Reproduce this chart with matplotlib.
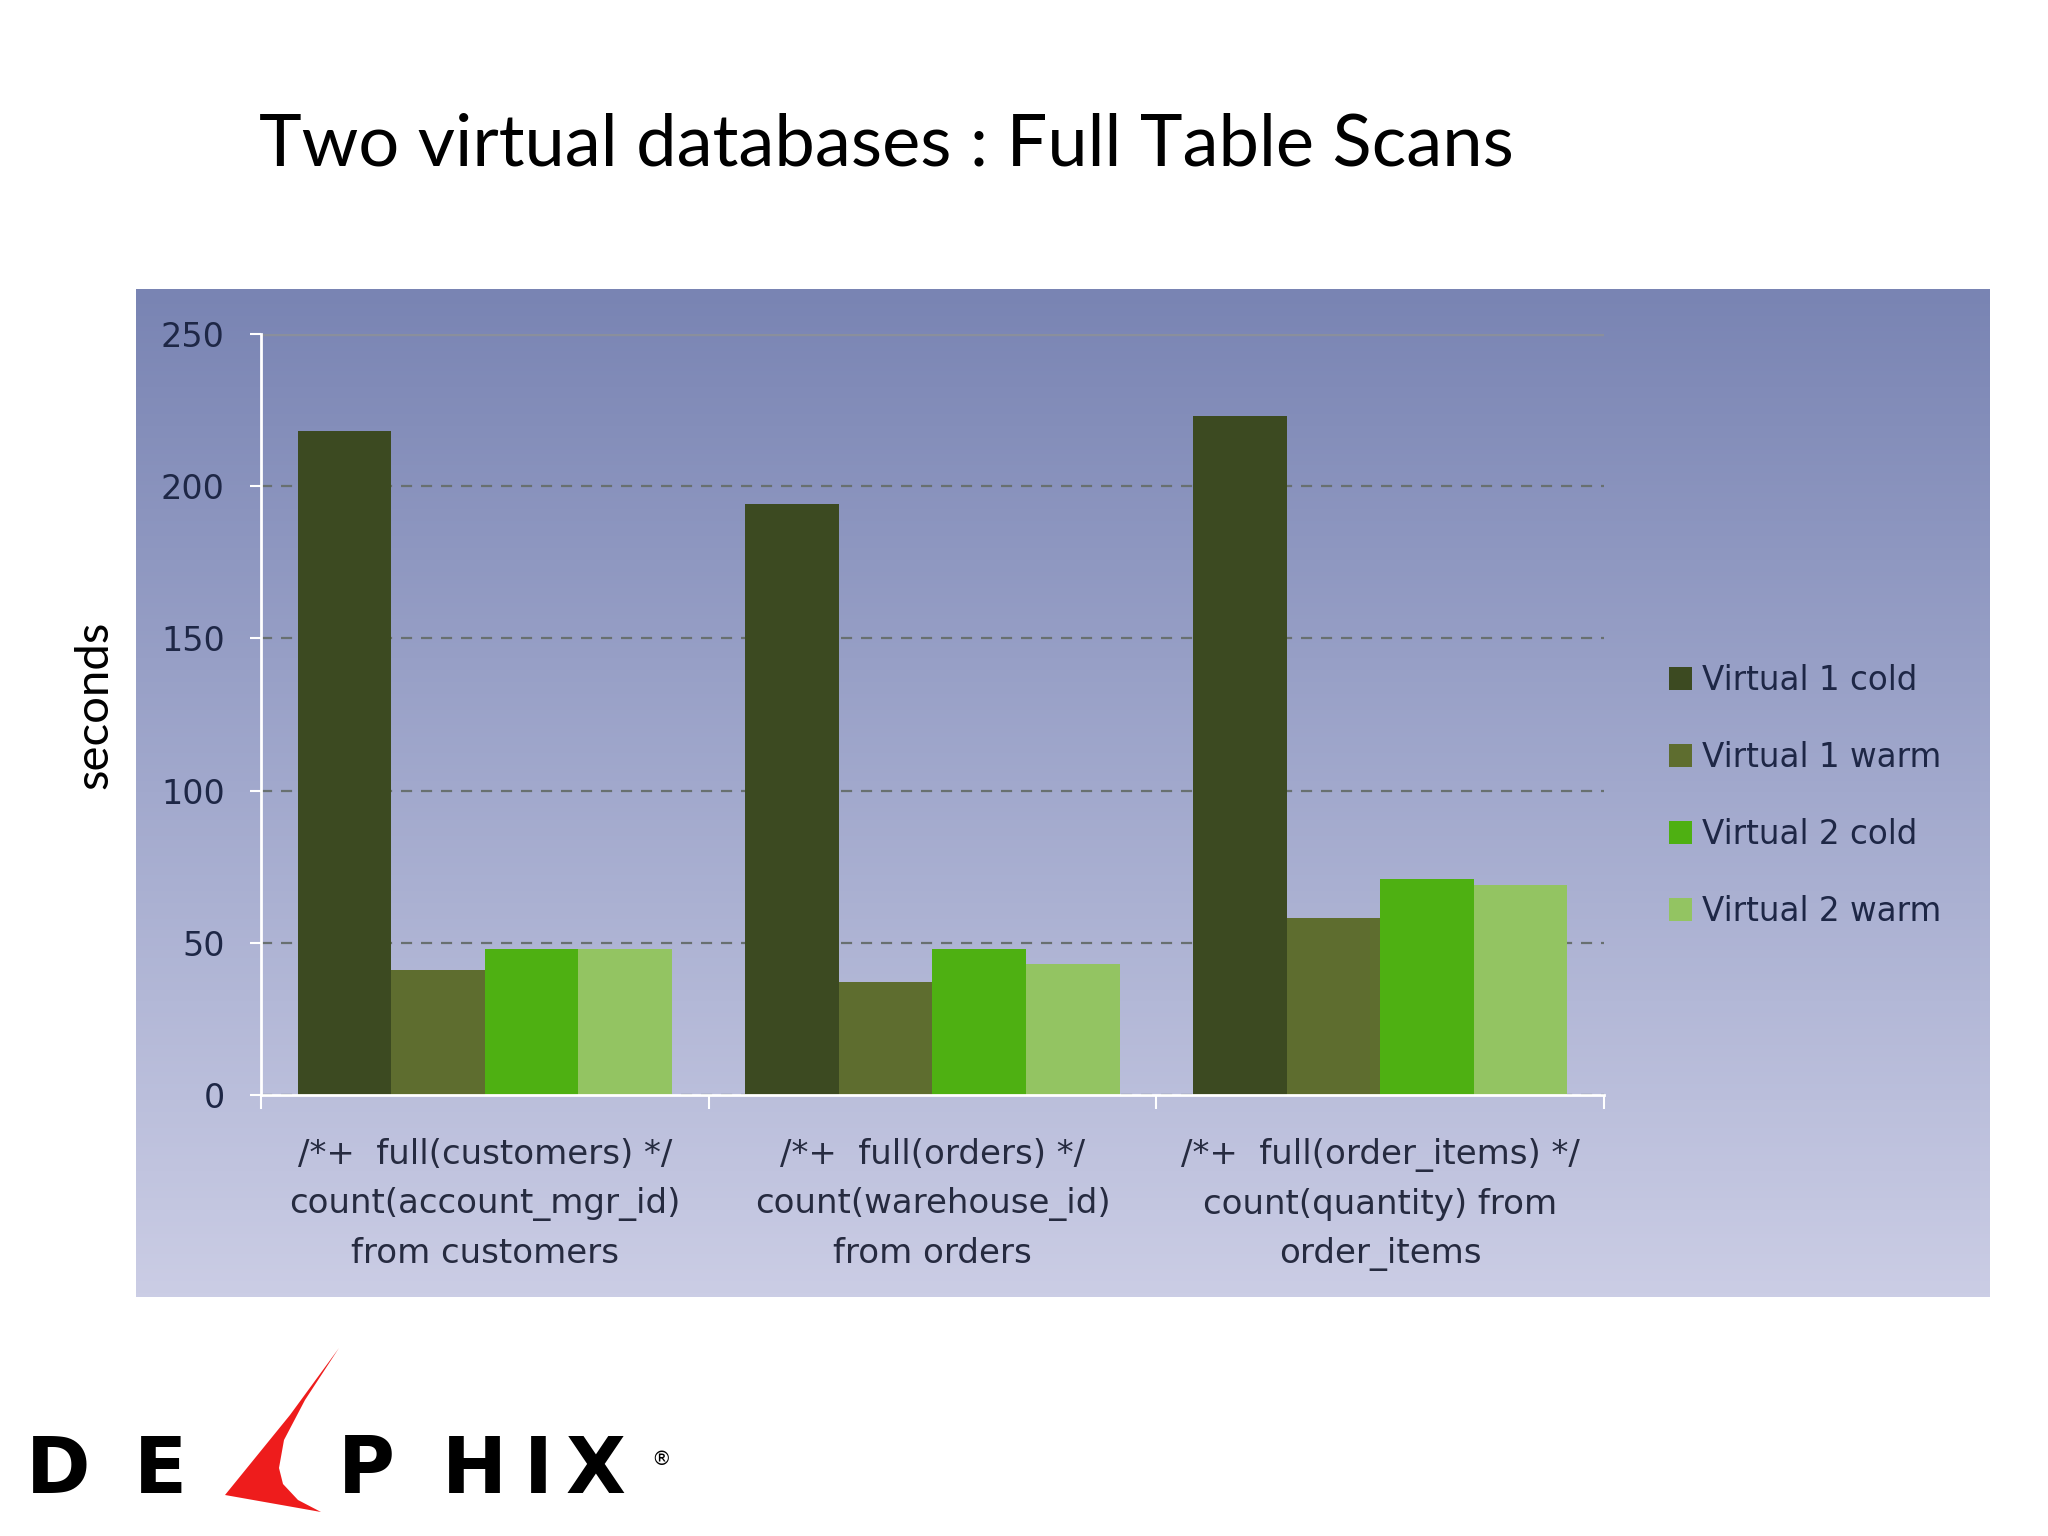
import numpy as np
import matplotlib.pyplot as plt
from matplotlib.colors import LinearSegmentedColormap
from matplotlib.patches import Polygon

# data
categories = [
    "/*+  full(customers) */\ncount(account_mgr_id)\nfrom customers",
    "/*+  full(orders) */\ncount(warehouse_id)\nfrom orders",
    "/*+  full(order_items) */\ncount(quantity) from\norder_items",
]
series = ["Virtual 1 cold", "Virtual 1 warm", "Virtual 2 cold", "Virtual 2 warm"]
v1_cold = [218, 194, 223]
v1_warm = [41, 37, 58]
v2_cold = [48, 48, 71]
v2_warm = [48, 43, 69]
yticks = [0, 50, 100, 150, 200, 250]

colors = ["#3c4a21", "#5e6d2f", "#4eb012", "#93c462"]
navy = "#1e2746"

fig = plt.figure(figsize=(20.48, 15.36), dpi=100)

# gradient panel behind the chart
bg = fig.add_axes([0.0664, 0.1556, 0.9048, 0.6563], zorder=0)
cmap = LinearSegmentedColormap.from_list("panel", ["#7984b3", "#a2a9cd", "#cbcde5"])
bg.imshow(np.linspace(0, 1, 256).reshape(-1, 1), aspect="auto", cmap=cmap,
          extent=[0, 1, 0, 1], origin="upper")
bg.axis("off")

ax = fig.add_axes([0.1274, 0.2871, 0.6558, 0.4955], zorder=1)
ax.patch.set_alpha(0)

x = np.arange(len(categories))
w = 0.209
for i, (vals, lab, c) in enumerate(zip([v1_cold, v1_warm, v2_cold, v2_warm], series, colors)):
    ax.bar(x + (i - 1.5) * w, vals, w, color=c, label=lab, zorder=3, linewidth=0)

ax.set_xlim(-0.5, 2.5)
ax.set_ylim(0, 250)
ax.set_yticks(yticks)
ax.set_axisbelow(True)
ax.yaxis.grid(True, linestyle=(0, (5, 4)), color="#687070", linewidth=1.6)
top = ax.yaxis.get_gridlines()[-1]
top.set_linestyle("-")
top.set_color("#8a8f9c")
top.set_linewidth(2.5)

for s in ["top", "right"]:
    ax.spines[s].set_visible(False)
for s in ["left", "bottom"]:
    ax.spines[s].set_color("white")
    ax.spines[s].set_linewidth(2)
    ax.spines[s].set_zorder(4)

ax.tick_params(axis="y", colors="white", labelcolor=navy, labelsize=24,
               length=8, width=1.5, pad=18)
ax.set_xticks(x)
ax.set_xticklabels(categories, fontsize=24.5, color="#262b40", linespacing=1.62)
ax.tick_params(axis="x", which="major", length=0, pad=31)
ax.set_xticks([-0.5, 0.5, 1.5, 2.5], minor=True)
ax.tick_params(axis="x", which="minor", colors="white", length=10, width=1.5)

leg = ax.legend(loc="center left", bbox_to_anchor=(1640 / 2048, 0.482),
                bbox_transform=fig.transFigure, frameon=False, fontsize=23.5,
                handlelength=0.7, handleheight=0.7, handletextpad=0.3,
                labelspacing=1.35)
for t in leg.get_texts():
    t.set_color(navy)

fig.text(0.046, 0.541, "seconds", rotation=90, ha="center", va="center",
         fontsize=34, family="Lato", color="black")
fig.text(0.1265, 0.9056, "Two virtual databases : Full Table Scans",
         ha="left", va="center", fontsize=52, family="Lato", color="black")

# logo
for ch, cx in zip(["D", "E", "P", "H", "I", "X"], [58, 160, 366, 474, 538, 596]):
    fig.text(cx / 2048, 0.0423, ch, ha="center", va="center", fontsize=56,
             fontweight="bold", family="DejaVu Sans", color="black")
fig.text(661 / 2048, 0.05, "®", ha="center", va="center", fontsize=14, color="black")
sw = [(339, 1348), (290, 1415), (225, 1495), (321, 1512), (298, 1500),
      (283, 1484), (279, 1468), (284, 1440), (305, 1400)]
fig.patches.append(Polygon([(px / 2048, 1 - py / 1536) for px, py in sw], closed=True,
                           facecolor="#ee1c1c", edgecolor="none",
                           transform=fig.transFigure, figure=fig))

fig.savefig("out.png", dpi=100)
